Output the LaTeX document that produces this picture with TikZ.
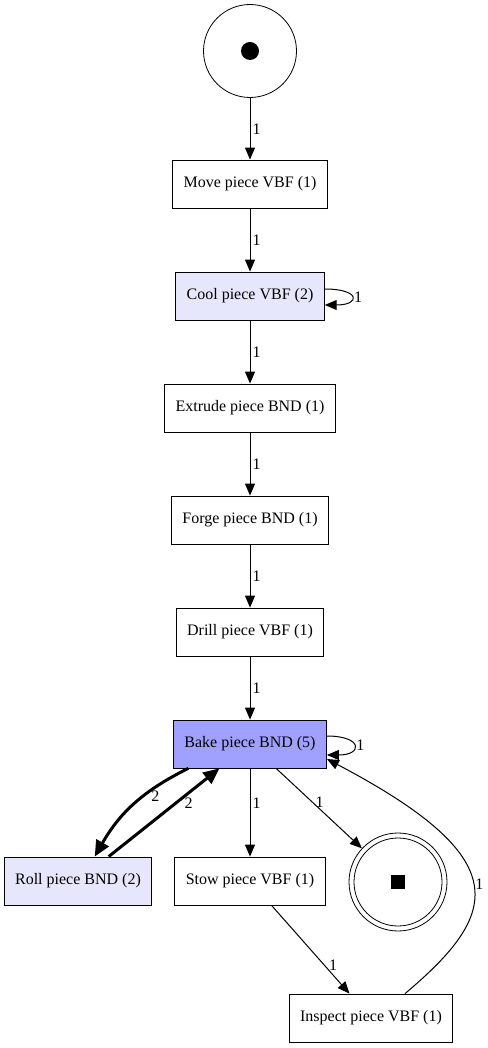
\documentclass[tikz,border=0pt]{standalone}
\usepackage{fontspec}
\setmainfont{Liberation Serif}
\usetikzlibrary{arrows.meta}

\definecolor{bakeblue}{RGB}{160,160,255}
\definecolor{lightlav}{RGB}{230,230,252}

\begin{document}
\begin{tikzpicture}[x=1pt,y=-1pt,
    font=\fontsize{16pt}{19pt}\selectfont,
    trans/.style={shape=rectangle,draw=black,line width=0.8pt,minimum height=48pt,inner xsep=11pt},
    placenode/.style={shape=circle,draw=black,line width=0.8pt,minimum size=93pt,inner sep=0pt},
    arc/.style={-{Triangle[length=10pt 2,width=8pt 2]},line width=1pt},
    heavy/.style={arc,line width=3pt},
    lbl/.style={inner sep=2pt}]
    \useasboundingbox (0,0) rectangle (487,1048);

	\node[placenode] (start) at (250,51) {};
    \node[trans] (move) at (250,184) {Move piece VBF (1)};
    \node[trans,fill=lightlav] (cool) at (250,296) {Cool piece VBF (2)};
    \node[trans] (extrude) at (250,408) {Extrude piece BND (1)};
    \node[trans] (forge) at (250,520) {Forge piece BND (1)};
    \node[trans] (drill) at (250,632) {Drill piece VBF (1)};
    \node[trans,fill=bakeblue] (bake) at (250,744) {Bake piece BND (5)};
    \node[trans,fill=lightlav] (roll) at (78,881) {Roll piece BND (2)};
    \node[trans] (stow) at (250,881) {Stow piece VBF (1)};
    \node[placenode,minimum size=98pt] (end) at (398,882) {};
    \node[trans] (inspect) at (371,1018) {Inspect piece VBF (1)};

    % tokens
    \fill (start.center) circle[radius=9];
    \draw[line width=0.8pt] (end.center) circle[radius=44];
    \fill ([shift={(-7pt,-7pt)}]end.center) rectangle +(14,-14);

    \path[arc] (start) edge node[right,lbl] {1} (move);
    \path[arc] (move) edge node[right,lbl] {1} (cool);
    \path[arc] (cool) edge node[right,lbl] {1} (extrude);
    \path[arc] (extrude) edge node[right,lbl] {1} (forge);
    \path[arc] (forge) edge node[right,lbl] {1} (drill);
    \path[arc] (drill) edge node[right,lbl] {1} (bake);

    \draw[arc] ([yshift=7pt]cool.east) .. controls +(36,0) and +(36,0) .. node[right,lbl] {1} ([yshift=-9pt]cool.east);
    \draw[arc] ([yshift=8pt]bake.east) .. controls +(36,0) and +(36,0) .. node[right,lbl] {1} ([yshift=-11pt]bake.east);

    \path[heavy] (bake) edge[bend right=17] node[pos=.4,right=5pt,lbl] {2} (roll);
    \path[heavy] (roll) edge node[pos=.6,right=6pt,lbl] {2} (bake);

    \path[arc] (bake) edge node[pos=.4,right,lbl] {1} (stow);
    \path[arc] (bake) edge node[pos=.42,right=1pt,lbl] {1} (end);
    \path[arc] (stow) edge node[pos=.68,right=2pt,lbl] {1} (inspect);

    \draw[arc] ([xshift=34pt]inspect.north) .. controls +(95,-80) and +(190,100) .. node[pos=.5,right,lbl] {1} ([yshift=-15pt]bake.east);

\end{tikzpicture}
\end{document}
